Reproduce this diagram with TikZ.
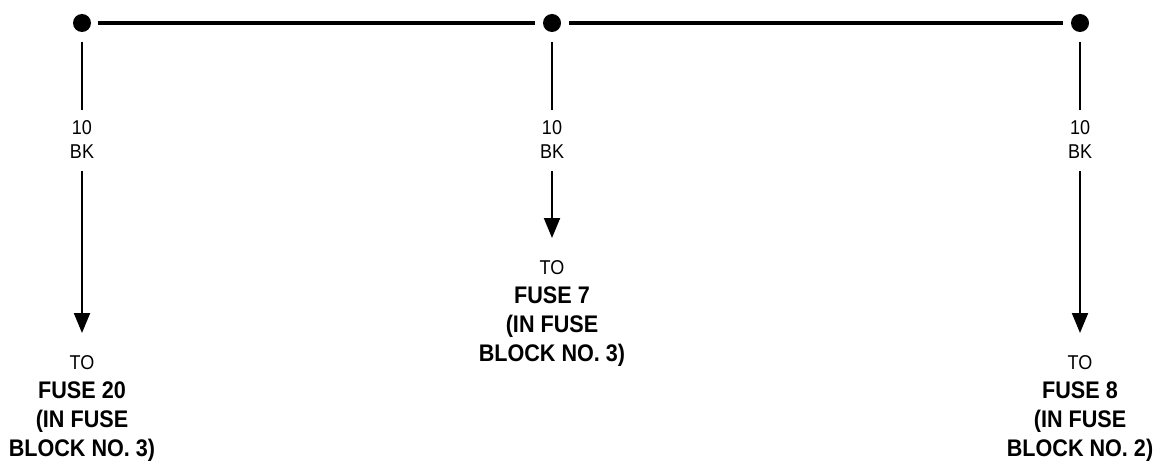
\documentclass[tikz,border=0pt]{standalone}
\usepackage{fontspec}
\setmainfont[FakeStretch=0.9]{Liberation Sans}
\usetikzlibrary{arrows.meta}
\tikzset{
  junction/.style={circle,fill=black,draw=none,minimum size=18pt,inner sep=0pt},
  wirelabel/.style={align=center,inner sep=0pt,font=\fontsize{20}{24}\selectfont},
  destlabel/.style={align=center,inner sep=0pt,anchor=north,font=\fontsize{24}{29}\selectfont},
  bus/.style={line width=4pt},
  tap/.style={line width=2.5pt},
  feed/.style={line width=2pt,-{Triangle[length=20pt,width=16pt]}}
}
\begin{document}
\begin{tikzpicture}[x=1pt,y=-1pt]
\useasboundingbox (0,0) rectangle (1167,476);
\node[junction] (d1) at (82,23) {};
\node[junction] (d2) at (552,23) {};
\node[junction] (d3) at (1080,23) {};
\draw[bus,shorten <=7pt,shorten >=8pt] (d1) -- (d2);
\draw[bus,shorten <=8pt,shorten >=8pt] (d2) -- (d3);
\node[wirelabel] (w1) at (82,140) {10\\BK};
\node[wirelabel] (w2) at (552,140) {10\\BK};
\node[wirelabel] (w3) at (1080,140) {10\\BK};
\draw[tap,shorten <=10pt,shorten >=11pt] (d1.south) -- (w1.north);
\draw[tap,shorten <=10pt,shorten >=11pt] (d2.south) -- (w2.north);
\draw[tap,shorten <=10pt,shorten >=11pt] (d3.south) -- (w3.north);
\node[destlabel] (t1) at (82,355) {{\fontsize{20}{29}\selectfont TO}\\{\bfseries FUSE 20}\\{\bfseries (IN FUSE}\\{\bfseries BLOCK NO. 3)}};
\node[destlabel] (t2) at (552,260) {{\fontsize{20}{29}\selectfont TO}\\{\bfseries FUSE 7}\\{\bfseries (IN FUSE}\\{\bfseries BLOCK NO. 3)}};
\node[destlabel] (t3) at (1080,355) {{\fontsize{20}{29}\selectfont TO}\\{\bfseries FUSE 8}\\{\bfseries (IN FUSE}\\{\bfseries BLOCK NO. 2)}};
\draw[feed,shorten <=12pt,shorten >=22pt] (w1.south) -- (t1.north);
\draw[feed,shorten <=12pt,shorten >=22pt] (w2.south) -- (t2.north);
\draw[feed,shorten <=12pt,shorten >=22pt] (w3.south) -- (t3.north);
\end{tikzpicture}
\end{document}
